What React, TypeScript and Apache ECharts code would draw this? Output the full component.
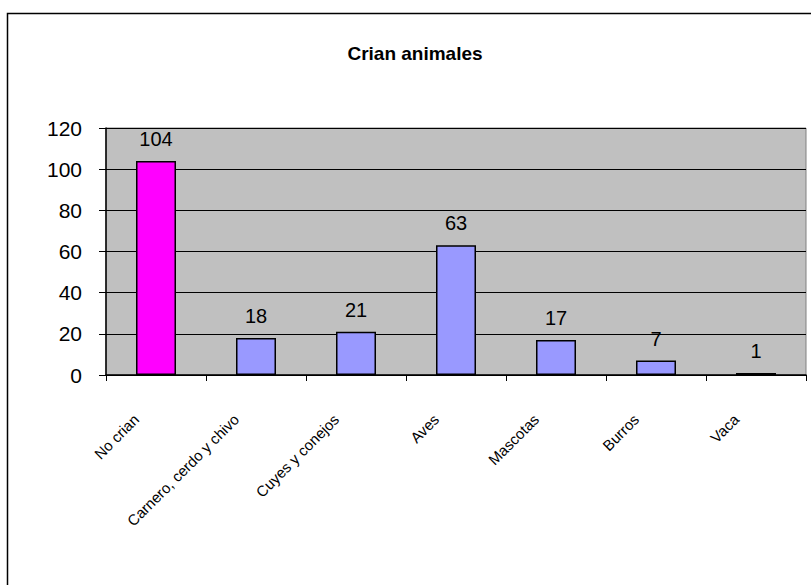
import React, { useEffect, useRef } from "react";
import * as echarts from "echarts";

const categories = ["No crian", "Carnero, cerdo y chivo", "Cuyes y conejos", "Aves", "Mascotas", "Burros", "Vaca"];
const values = [104, 18, 21, 63, 17, 7, 1];
const barColors = ["#FF00FF", "#9999FF", "#9999FF", "#9999FF", "#9999FF", "#9999FF", "#9999FF"];
const title = "Crian animales";

export default function App() {
  const ref = useRef<HTMLDivElement>(null);
  useEffect(() => {
    if (!ref.current) return;
    const chart = echarts.init(ref.current, null, { renderer: "svg" });
    chart.setOption({
      animation: false,
      backgroundColor: "#FFFFFF",
      textStyle: { fontFamily: "Liberation Sans, Arial, sans-serif" },
      title: {
        text: title,
        left: 410,
        top: 39,
        textAlign: "center",
        textStyle: { fontSize: 19, fontWeight: "bold", color: "#000", fontFamily: "Liberation Sans, Arial, sans-serif" },
      },
      graphic: [
        {
          type: "rect",
          shape: { x: 7.5, y: 13.5, width: 820, height: 600 },
          style: { fill: "none", stroke: "#000", lineWidth: 1.5 },
          z: 100,
        },
      ],
      grid: {
        left: 106,
        right: 5,
        top: 128,
        bottom: 210,
        show: true,
        backgroundColor: "#C0C0C0",
        borderColor: "#808080",
        borderWidth: 1,
      },
      xAxis: {
        type: "category",
        data: categories,
        axisLine: { show: true, lineStyle: { color: "#000", width: 1.5 } },
        axisTick: { show: true, length: 6, lineStyle: { color: "#000" }, alignWithLabel: false },
        axisLabel: {
          interval: 0,
          rotate: 45,
          margin: 22,
          fontSize: 15,
          color: "#000",
          padding: [0, 28, 0, 0],
          fontFamily: "Liberation Sans, Arial, sans-serif",
        },
      },
      yAxis: {
        type: "value",
        min: 0,
        max: 120,
        interval: 20,
        axisLine: { show: true, lineStyle: { color: "#000", width: 1.5 } },
        axisTick: { show: true, length: 7, lineStyle: { color: "#000" } },
        axisLabel: { fontSize: 21, color: "#000", margin: 24, fontFamily: "Liberation Sans, Arial, sans-serif" },
        splitLine: { show: true, lineStyle: { color: "#000", width: 1 } },
      },
      series: [
        {
          type: "bar",
          data: values.map((v, i) => ({
            value: v,
            itemStyle: { color: barColors[i], borderColor: "#000", borderWidth: 1.5 },
          })),
          barWidth: "40%",
          label: {
            show: true,
            position: "top",
            distance: 12,
            fontSize: 20,
            color: "#000",
            fontFamily: "Liberation Sans, Arial, sans-serif",
          },
        },
      ],
    });
    return () => chart.dispose();
  }, []);
  return <div ref={ref} style={{ position: "fixed", left: 0, top: 0, width: 811, height: 585 }} />;
}
